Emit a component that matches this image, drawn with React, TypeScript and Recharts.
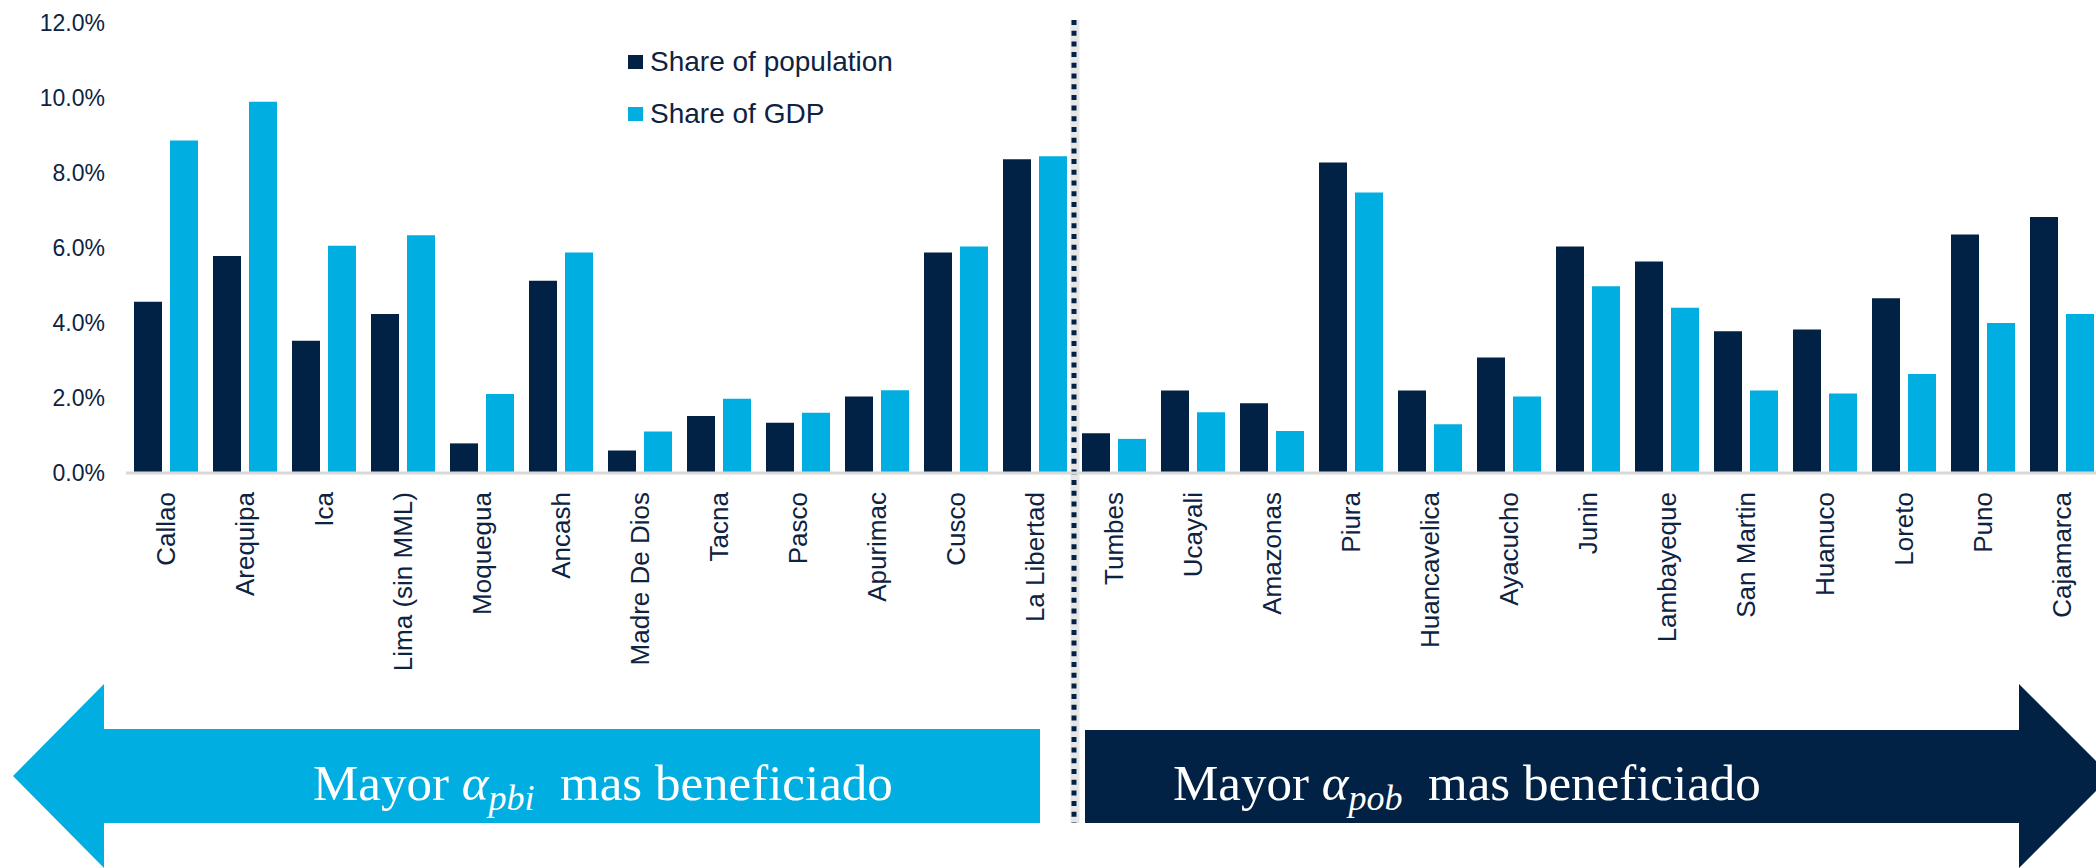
import { Bar, BarChart, ReferenceLine, XAxis, YAxis } from "recharts";

const regions = [
  "Callao", "Arequipa", "Ica", "Lima (sin MML)", "Moquegua", "Ancash",
  "Madre De Dios", "Tacna", "Pasco", "Apurimac", "Cusco", "La Libertad",
  "Tumbes", "Ucayali", "Amazonas", "Piura", "Huancavelica", "Ayacucho",
  "Junin", "Lambayeque", "San Martin", "Huanuco", "Loreto", "Puno", "Cajamarca",
];

// shares in percent
const populationShare = [
  4.57, 5.79, 3.53, 4.24, 0.79, 5.13, 0.6, 1.52, 1.34, 2.04, 5.88, 8.37,
  1.06, 2.2, 1.86, 8.28, 2.2, 3.08, 6.04, 5.64, 3.78, 3.83, 4.66, 6.36, 6.83,
];
const gdpShare = [
  8.87, 9.9, 6.06, 6.34, 2.11, 5.88, 1.11, 1.98, 1.61, 2.21, 6.04, 8.45,
  0.91, 1.62, 1.12, 7.48, 1.3, 2.04, 4.98, 4.41, 2.2, 2.12, 2.64, 4.0, 4.24,
];
const yTicks = [0, 2, 4, 6, 8, 10, 12];

const NAVY = "#022245";
const CYAN = "#00AEE2";
const TEXT = "#0E2341";
const FONT = "'Liberation Sans', Arial, sans-serif";

const chartData = regions.map((region, i) => ({
  region,
  population: populationShare[i],
  gdp: gdpShare[i],
}));

function RegionTick({ x, y, payload }: { x?: number; y?: number; payload?: { value: string } }) {
  return (
    <text
      x={x}
      y={y}
      transform={`rotate(-90 ${x} ${y})`}
      textAnchor="end"
      dominantBaseline="central"
      fill={TEXT}
      fontSize={26}
      fontFamily={FONT}
    >
      {payload?.value}
    </text>
  );
}

function ShareLegend() {
  const items = [
    { label: "Share of population", color: NAVY },
    { label: "Share of GDP", color: CYAN },
  ];
  return (
    <div style={{ position: "absolute", left: 628, top: 36, fontFamily: FONT }}>
      {items.map((item) => (
        <div key={item.label} style={{ display: "flex", alignItems: "center", height: 52 }}>
          <span style={{ width: 15, height: 14, background: item.color, marginRight: 7 }} />
          <span style={{ fontSize: 28, color: TEXT }}>{item.label}</span>
        </div>
      ))}
    </div>
  );
}

// dotted separator, runs from just above the plot down through the arrows gap
function DividerLine(props: { x1?: number; y1?: number; x2?: number; y2?: number }) {
  const { x1 = 0, y1 = 0, y2 = 0 } = props;
  const top = Math.min(y1, y2) - 3;
  const bottom = Math.max(y1, y2) + 350;
  return (
    <g>
      <line x1={x1 + 1} y1={top} x2={x1 + 1} y2={bottom} stroke="#9a9a9a" strokeOpacity={0.25} strokeWidth={9} />
      <line x1={x1} y1={top} x2={x1} y2={bottom} stroke={NAVY} strokeWidth={5} strokeDasharray="5 5.7" />
    </g>
  );
}

function ArrowLabel({ x, sub }: { x: number; sub: string }) {
  return (
    <text x={x} y={800} fill="#fff" fontSize={51} fontFamily="'Liberation Serif', 'Times New Roman', serif">
      Mayor{" "}
      <tspan fontStyle="italic">α</tspan>
      <tspan fontStyle="italic" fontSize={36} dy={10}>{sub}</tspan>
      <tspan dy={-10}>{"\u00a0\u00a0"}mas beneficiado</tspan>
    </text>
  );
}

export default function App() {
  return (
    <div
      style={{
        position: "absolute",
        left: 0,
        top: 0,
        width: 2096,
        height: 868,
        overflow: "hidden",
        background: "#fff",
        fontFamily: FONT,
      }}
    >
      <BarChart
        width={2110}
        height={868}
        data={chartData}
        margin={{ top: 23, right: 9, bottom: 0, left: 0 }}
        barSize={28}
        barGap={8}
      >
        <XAxis
          dataKey="region"
          interval={0}
          height={395}
          tickSize={0}
          tickMargin={19}
          tickLine={false}
          axisLine={{ stroke: "#d9d9d9", strokeWidth: 3 }}
          tick={<RegionTick />}
        />
        <YAxis
          width={126}
          domain={[0, 12]}
          ticks={yTicks}
          tickFormatter={(v: number) => `${v.toFixed(1)}%`}
          axisLine={false}
          tickLine={false}
          tickSize={0}
          tickMargin={21}
          tick={{ fill: TEXT, fontSize: 23, fontFamily: FONT }}
        />
        <Bar dataKey="population" name="Share of population" fill={NAVY} isAnimationActive={false} />
        <Bar dataKey="gdp" name="Share of GDP" fill={CYAN} isAnimationActive={false} />
        <ReferenceLine x="Tumbes" position="start" ifOverflow="visible" shape={<DividerLine />} />
      </BarChart>

      <ShareLegend />

      <svg
        width={2096}
        height={868}
        style={{ position: "absolute", left: 0, top: 0, pointerEvents: "none" }}
      >
        <polygon
          points="13,776 104,684 104,729 1040,729 1040,823 104,823 104,868"
          fill={CYAN}
        />
        <polygon
          points="1085,730 2019,730 2019,684 2111,776 2019,868 2019,823 1085,823"
          fill={NAVY}
        />
        <ArrowLabel x={313} sub="pbi" />
        <ArrowLabel x={1173} sub="pob" />
      </svg>
    </div>
  );
}
